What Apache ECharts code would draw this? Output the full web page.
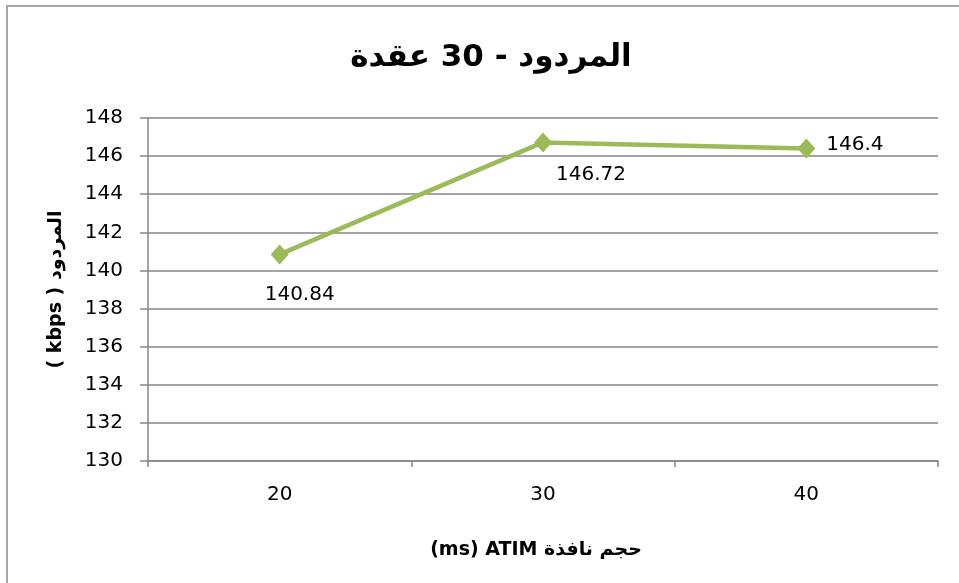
<!DOCTYPE html>
<html>
<head>
<meta charset="utf-8">
<script src="https://cdn.jsdelivr.net/npm/echarts@6/dist/echarts.min.js"></script>
<style>
  html, body { margin: 0; padding: 0; background: #fff; }
  #chart { width: 959px; height: 583px; direction: rtl; }
</style>
</head>
<body>
<div id="chart"></div>
<script>
// المردود حسب حجم نافذة ATIM
const categories = ['20', '30', '40'];
const throughput = [140.84, 146.72, 146.4];
// label placement per point (like the excel original)
const labelPos = ['bottom', 'bottom', 'right'];
const labelDist = [20, 12, 11];
const labelOff = [[20, 0], [48, 0], [0, -4]];

const chart = echarts.init(document.getElementById('chart'), null, { renderer: 'canvas' });

const option = {
  backgroundColor: '#fff',
  animation: false,
  title: {
    text: 'المردود - 30 عقدة',
    left: 486,
    top: 37,
    textAlign: 'center',
    textStyle: { fontFamily: 'DejaVu Sans', fontSize: 31, fontWeight: 'bold', color: '#000' }
  },
  grid: { left: 148, right: 21, top: 118, bottom: 122 },
  xAxis: {
    type: 'category',
    data: categories,
    boundaryGap: true,
    name: 'حجم نافذة \u200E(ms) ATIM',
    nameLocation: 'middle',
    nameGap: 80,
    nameTextStyle: { fontFamily: 'DejaVu Sans', fontSize: 19, fontWeight: 'bold', color: '#000', padding: [0, 14, 0, 0] },
    axisLine: { lineStyle: { color: '#868686', width: 1.5 } },
    axisTick: { show: true, length: 6, lineStyle: { color: '#868686', width: 1.5 } },
    axisLabel: { margin: 24, fontFamily: 'DejaVu Sans', fontSize: 20, color: '#000' },
    splitLine: { show: false }
  },
  yAxis: {
    type: 'value',
    min: 130,
    max: 148,
    interval: 2,
    name: 'المردود ( kbps )',
    nameLocation: 'middle',
    nameGap: 82,
    nameRotate: 90,
    nameTextStyle: { fontFamily: 'DejaVu Sans', fontSize: 19, fontWeight: 'bold', color: '#000' },
    axisLine: { show: true, lineStyle: { color: '#868686', width: 1.5 } },
    axisTick: { show: true, length: 8, lineStyle: { color: '#868686', width: 1.5 } },
    axisLabel: { margin: 25, fontFamily: 'DejaVu Sans', fontSize: 20, color: '#000' },
    splitLine: { show: true, lineStyle: { color: '#868686', width: 1.5 } }
  },
  series: [{
    type: 'line',
    data: throughput.map((v, i) => ({
      value: v,
      label: { position: labelPos[i], distance: labelDist[i], offset: labelOff[i] }
    })),
    symbol: 'diamond',
    symbolSize: [18, 20],
    lineStyle: { color: '#9bbb59', width: 4.5 },
    itemStyle: { color: '#9bbb59' },
    label: {
      show: true,
      fontFamily: 'DejaVu Sans',
      fontSize: 20,
      color: '#000'
    }
  }],
  graphic: [
    { type: 'line', shape: { x1: 6, y1: 6, x2: 959, y2: 6 }, style: { stroke: '#a6a6a6', lineWidth: 2 } },
    { type: 'line', shape: { x1: 7, y1: 6, x2: 7, y2: 583 }, style: { stroke: '#a6a6a6', lineWidth: 2 } }
  ]
};

chart.setOption(option);
</script>
</body>
</html>
